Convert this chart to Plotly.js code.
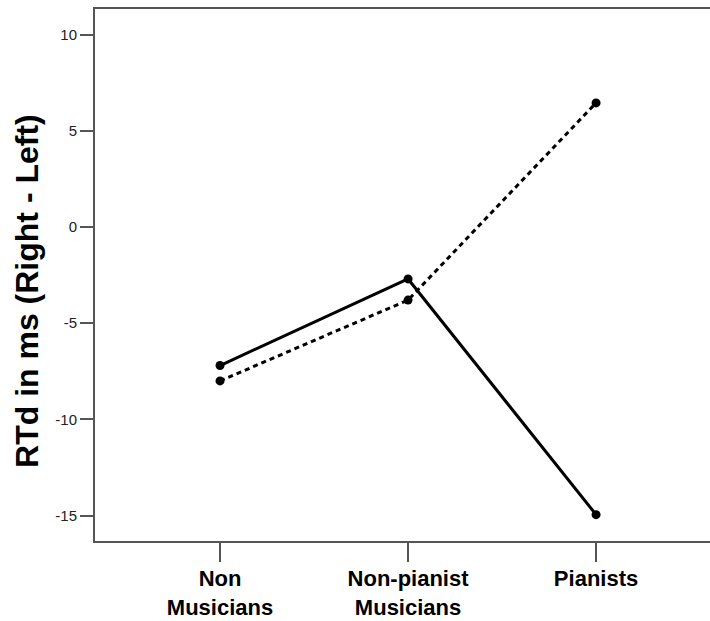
<!DOCTYPE html>
<html>
<head>
<meta charset="utf-8">
<script src="https://cdn.plot.ly/plotly-3.0.1.min.js"></script>
<style>html,body{margin:0;padding:0;background:#fff;}#chart{width:710px;height:621px;}</style>
</head>
<body>
<div id="chart"></div>
<script>
const categories = ["Non<br>Musicians", "Non-pianist<br>Musicians", "Pianists"];
const solidSeries = [-7.2, -2.7, -14.95];
const dottedSeries = [-8.0, -3.8, 6.45];
const yTicks = [-15, -10, -5, 0, 5, 10];
const yTitle = "RTd in ms (Right - Left)";

const catIdx = categories.map((_, i) => i);

const traces = [
  {
    x: catIdx, y: solidSeries, type: "scatter", mode: "lines+markers",
    line: {color: "#000", width: 3, dash: "solid"},
    marker: {color: "#000", size: 9},
    showlegend: false, hoverinfo: "skip"
  },
  {
    x: catIdx, y: dottedSeries, type: "scatter", mode: "lines+markers",
    line: {color: "#000", width: 3, dash: "5px,4px"},
    marker: {color: "#000", size: 9},
    showlegend: false, hoverinfo: "skip"
  }
];

const layout = {
  width: 710, height: 621,
  margin: {l: 95, r: 0, t: 9, b: 80},
  paper_bgcolor: "#fff", plot_bgcolor: "#fff",
  font: {family: "Liberation Sans, Arial, sans-serif", color: "#000"},
  xaxis: {
    range: [-0.665, 2.606],
    tickvals: catIdx, ticktext: categories,
    showgrid: false, zeroline: false,
    showline: true, linecolor: "#555", linewidth: 2, mirror: true,
    ticks: "outside", ticklen: 19, tickwidth: 2, tickcolor: "#555",
    ticklabelstandoff: -2,
    tickfont: {family: "Liberation Sans, Arial, sans-serif", size: 22, color: "#000", weight: "bold"}
  },
  yaxis: {
    range: [-16.32, 11.33],
    tickvals: yTicks, ticktext: yTicks.map(String),
    showgrid: false, zeroline: false,
    showline: true, linecolor: "#555", linewidth: 2,
    ticks: "outside", ticklen: 13, tickwidth: 2, tickcolor: "#555",
    tickfont: {family: "Liberation Sans, Arial, sans-serif", size: 15, color: "#222"}
  },
  annotations: [{
    text: yTitle, textangle: -90, showarrow: false,
    xref: "paper", yref: "paper", x: 0, y: 0.47,
    xanchor: "center", yanchor: "middle", xshift: -68,
    font: {family: "Liberation Sans, Arial, sans-serif", size: 32, color: "#000", weight: "bold"}
  }]
};

Plotly.newPlot("chart", traces, layout, {staticPlot: true, displayModeBar: false});
</script>
</body>
</html>
